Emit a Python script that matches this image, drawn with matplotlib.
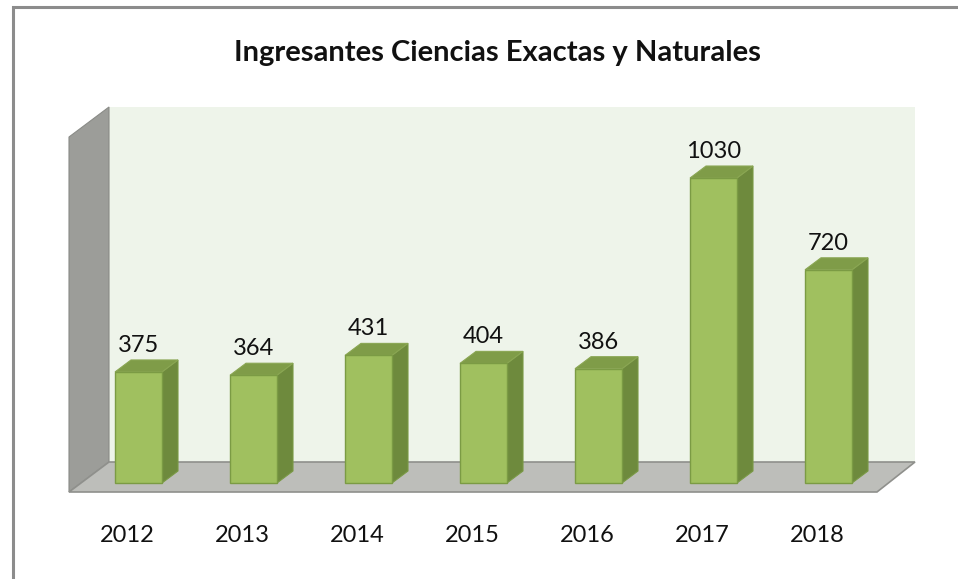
import matplotlib
matplotlib.use("Agg")
import matplotlib.pyplot as plt
from matplotlib.patches import Polygon, Rectangle

years = ["2012", "2013", "2014", "2015", "2016", "2017", "2018"]
ingresantes = [375, 364, 431, 404, 386, 1030, 720]
title = "Ingresantes Ciencias Exactas y Naturales"

W, H = 958, 579
x0_px, step_px = 138.5, 115.0   # front-face centre of first bar, spacing
base_px, scale_px = 483.0, 0.2961  # pixel row of value 0, px per unit


def pt(px, py):
    # pixel position -> data coords of the axes
    return ((px - x0_px) / step_px, (base_px - py) / scale_px)


plt.rcParams["font.family"] = ["Lato", "DejaVu Sans"]
fig = plt.figure(figsize=(W / 100, H / 100), dpi=100)
ax = fig.add_axes([0, 0, 1, 1])
ax.set_xlim(pt(0, 0)[0], pt(W, 0)[0])
ax.set_ylim(pt(0, H)[1], pt(0, 0)[1])
ax.axis("off")

# walls and floor
side = [pt(69, 137), pt(109, 107), pt(109, 462), pt(69, 492)]
back = [pt(109, 107), pt(915, 107), pt(915, 462), pt(109, 462)]
floor = [pt(69, 492), pt(877, 492), pt(915, 462), pt(109, 462)]
ax.add_patch(Polygon(back, closed=True, fc="#eef4ea", ec="none", zorder=1))
ax.add_patch(Polygon(side, closed=True, fc="#9c9d99", ec="#8a8b87", lw=0.8, zorder=1))
ax.add_patch(Polygon(floor, closed=True, fc="#bdbeba", ec="#8f908c", lw=1.2, zorder=2))

# 3d bars
hw = 23.5 / step_px
dx = 16 / step_px
dy = 12 / scale_px
for i, v in enumerate(ingresantes):
    l, r = i - hw, i + hw
    front = [(l, 0), (r, 0), (r, v), (l, v)]
    right = [(r, 0), (r + dx, dy), (r + dx, v + dy), (r, v)]
    top = [(l, v), (r, v), (r + dx, v + dy), (l + dx, v + dy)]
    ax.add_patch(Polygon(right, closed=True, fc="#6e8a3d", ec="#7a9a45", lw=0.8, zorder=3))
    ax.add_patch(Polygon(top, closed=True, fc="#7f9c48", ec="#8aa653", lw=0.8, zorder=3))
    ax.add_patch(Polygon(front, closed=True, fc="#a0c05f", ec="#7b9b44", lw=1.0, zorder=4))
    ax.text(i, v + dy + 4 / scale_px, str(v), ha="center", va="bottom",
            fontsize=17, color="#111111", zorder=5)
    ax.text(pt(127 + 115 * i, 0)[0], pt(0, 535)[1], years[i], ha="center", va="center",
            fontsize=17, color="#111111")

fig.text(497 / W, 1 - 53 / H, title, ha="center", va="center",
         fontsize=21, fontweight="bold", color="#111111")

# chart border
fig.add_artist(Rectangle((13 / W, -0.01), 1.02, 1 - 7 / H + 0.01, transform=fig.transFigure,
                         fill=False, ec="#8c8c8c", lw=2.2))

fig.savefig("out.png", dpi=100)
